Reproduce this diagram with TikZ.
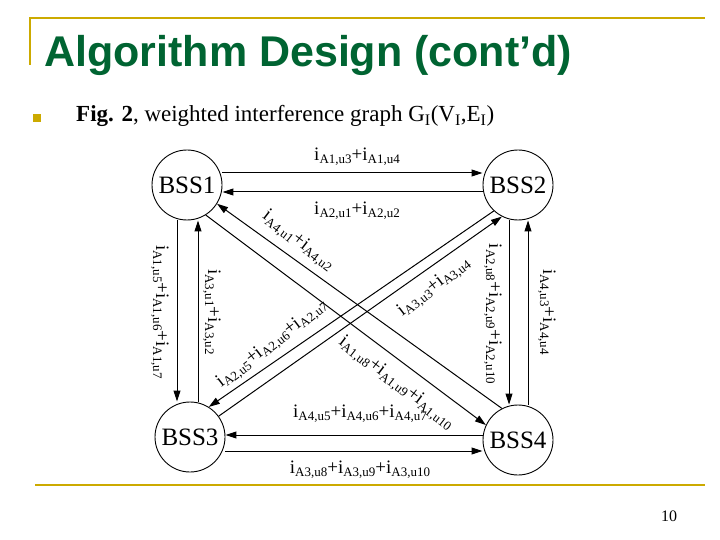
\documentclass[tikz,border=0pt]{standalone}
\usepackage{fontspec}
\setmainfont{Liberation Serif}
\newfontfamily\titlefont{Liberation Sans}
\usetikzlibrary{arrows.meta}
\newcommand{\ix}[1]{i{\fontsize{13}{13}\selectfont\raisebox{-3pt}{#1}}}
\definecolor{olive}{RGB}{204,170,0}
\definecolor{tgreen}{RGB}{0,100,50}
\tikzset{
 bss/.style={circle,draw,line width=0.9pt,minimum size=70pt,inner sep=0pt,font=\fontsize{25}{26}\selectfont},
 ed/.style={draw,line width=1pt,-{Triangle[length=11pt,width=7pt]}},
 lab/.style={font=\fontsize{19}{20}\selectfont,inner sep=0pt}
}
\begin{document}
\begin{tikzpicture}[x=1pt,y=-1pt]
\useasboundingbox (0,0) rectangle (720,540);
\fill[white] (0,0) rectangle (720,540);
\draw[olive,line width=2pt] (30,65) -- (30,18) -- (705,18);
\draw[olive,line width=2pt] (35,485) -- (705,485);
\node[anchor=west,inner sep=0pt,text=tgreen,font=\titlefont\bfseries\fontsize{43}{46}\selectfont] (title) at (44,55) {Algorithm Design (cont’d)};
\node[fill=olive,minimum size=8pt,inner sep=0pt] (bul) at (37,118) {};
\node[anchor=west,inner sep=0pt,font=\fontsize{23}{25}\selectfont] (cap) at (76,116) {\textbf{Fig. 2}, weighted interference graph G\textsubscript{I}(V\textsubscript{I},E\textsubscript{I})};
\node[font=\fontsize{16}{18}\selectfont] (pg) at (669,516) {10};

\node[bss] (a) at (187,185) {BSS1};
\node[bss] (b) at (518,185) {BSS2};
\node[bss] (c) at (190,437) {BSS3};
\node[bss] (d) at (518,440) {BSS4};

\draw[ed] ([yshift=12pt]a.east) -- ([yshift=12pt]b.west);
\draw[ed] ([yshift=-7pt]b.west) -- ([yshift=-7pt]a.west -| a.east);
\draw[ed] ([xshift=-10pt]a.south) -- ([xshift=-10pt]a.south |- c.north);
\draw[ed] ([xshift=8pt]c.north) -- ([xshift=8pt]c.north |- a.south);
\draw[ed] ([xshift=-9pt]b.south) -- ([xshift=-9pt]d.north);
\draw[ed] ([xshift=10pt]d.north) -- ([xshift=10pt]b.south);
\draw[ed] ([yshift=5pt]d.west) -- ([yshift=5pt]d.west -| c.east);
\draw[ed] ([yshift=-14pt]c.east) -- ([yshift=-14pt]c.east -| d.west);
\draw[ed] (a.-58) -- (d.155);
\draw[ed] (d.117) -- (a.-32);
\draw[ed] (b.227) -- (c.58);
\draw[ed] (c.36) -- (b.-117);

\node[lab] (l1) at (357,157) {\ix{A1,u3}+\ix{A1,u4}};
\node[lab] (l2) at (357,211) {\ix{A2,u1}+\ix{A2,u2}};
\node[lab,rotate=-90] (l3) at (160,312) {\ix{A1,u5}+\ix{A1,u6}+\ix{A1,u7}};
\node[lab,rotate=-90] (l4) at (212,312) {\ix{A3,u1}+\ix{A3,u2}};
\node[lab,rotate=-90] (l5) at (493,314) {\ix{A2,u8}+\ix{A2,u9}+\ix{A2,u10}};
\node[lab,rotate=-90] (l6) at (547,312) {\ix{A4,u3}+\ix{A4,u4}};
\node[lab,rotate=-37.6] (l7) at (298,241) {\ix{A4,u1}+\ix{A4,u2}};
\node[lab,rotate=37.6] (l8) at (434,287) {\ix{A3,u3}+\ix{A3,u4}};
\node[lab,rotate=37.6] (l9) at (272,344) {\ix{A2,u5}+\ix{A2,u6}+\ix{A2,u7}};
\node[lab,rotate=-37.6] (l10) at (396,383) {\ix{A1,u8}+\ix{A1,u9}+\ix{A1,u10}};
\node[lab] (l11) at (360,414) {\ix{A4,u5}+\ix{A4,u6}+\ix{A4,u7}};
\node[lab] (l12) at (360,470) {\ix{A3,u8}+\ix{A3,u9}+\ix{A3,u10}};
\end{tikzpicture}
\end{document}
